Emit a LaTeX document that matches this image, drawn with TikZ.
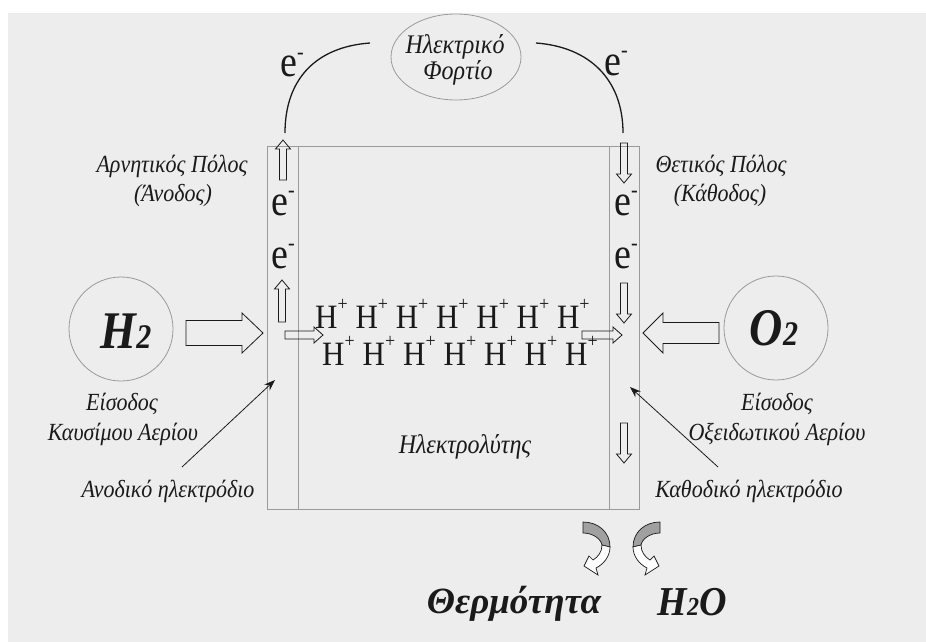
\documentclass[tikz,border=0pt]{standalone}
\usepackage{fontspec}
\setmainfont{Liberation Serif}
\usetikzlibrary{shapes.geometric,arrows.meta}
\definecolor{paper}{HTML}{EDEDED}
\definecolor{edge}{HTML}{9A9A9A}
\definecolor{ink}{HTML}{1A1A1A}
\definecolor{shade}{HTML}{A0A0A0}
% slightly tall lettering
\newcommand\tallt[1]{\scalebox{1}[1.12]{#1}}
% electron and proton symbols with a raised small sign
\newcommand\eminus{\scalebox{1}[1.15]{e\raisebox{15pt}{\fontsize{20}{20}\selectfont -}}}
\newcommand\hplus{\scalebox{1}[1.1]{H\raisebox{16pt}{\fontsize{18}{18}\selectfont +}}}
\tikzset{
  txt/.style={inner sep=0pt, anchor=base, text=ink},
  lbl/.style={txt, font=\itshape\fontsize{22}{22}\selectfont},
  bigsym/.style={txt, font=\bfseries\itshape\fontsize{46}{46}\selectfont},
  charge/.style={txt, anchor=base west, font=\fontsize{38}{38}\selectfont},
  proton/.style={txt, anchor=base west, font=\fontsize{31}{31}\selectfont},
  frame/.style={draw=edge, line width=0.8pt},
  wire/.style={draw=ink, line width=1.3pt},
  pointer/.style={draw=ink, line width=0.8pt, -{Stealth[length=11pt,width=8pt]}},
  hollow/.style={draw=ink, line width=0.8pt},
  pics/blockarrow/.style n args={4}{code={
    \draw[pic actions] (0,-#2) -- ({#1-#4},-#2) -- ({#1-#4},-#3) -- (#1,0)
      -- ({#1-#4},#3) -- ({#1-#4},#2) -- (0,#2) -- cycle;
  }},
  pics/curlarrow/.style={code={
    \draw[draw=ink, line width=0.7pt, fill=shade]
      (0,0) .. controls (15,0) and (27,10) .. (27,25) -- (19,23)
      .. controls (18,17) and (10,11) .. (0,11) -- cycle;
    \draw[draw=ink, line width=0.7pt, fill=white]
      (19,23) .. controls (19,30) and (15,35) .. (10,38) -- (6,34) -- (1,44)
      -- (15,53) -- (13,46) .. controls (21,42) and (27,34) .. (27,25) -- cycle;
  }},
}
\begin{document}
\begin{tikzpicture}[x=1pt,y=-1pt]
\useasboundingbox (0,0) rectangle (926,642);
\fill[white] (0,0) rectangle (926,642);
\fill[paper] (8,13) rectangle (926,642);

% fuel cell body with the two electrode strips
\draw[frame] (267,146) rectangle (639,509);
\draw[frame] (298,146) -- (298,509);
\draw[frame] (609,146) -- (609,509);

% external load
\node[frame, ellipse, minimum width=130pt, minimum height=86pt, inner sep=0pt] (load) at (456,57) {};
\node[lbl, font=\itshape\fontsize{24}{24}\selectfont] (loadA) at (455,53) {\tallt{Ηλεκτρικό}};
\node[lbl, font=\itshape\fontsize{24}{24}\selectfont] (loadB) at (458,80) {\tallt{Φορτίο}};

% external circuit
\coordinate (wireLa) at (285,133);
\coordinate (wireLb) at (370,43);
\coordinate (wireRa) at (536,43);
\coordinate (wireRb) at (623,133);
\draw[wire] (wireLa) .. controls (285,80) and (315,47) .. (wireLb);
\draw[wire] (wireRa) .. controls (590,47) and (623,80) .. (wireRb);
\node[charge] (eTopL) at (280,77) {\eminus};
\node[charge] (eTopR) at (604,75) {\eminus};

% electrons in the electrodes
\node[charge] (eAn1) at (271,215) {\eminus};
\node[charge] (eAn2) at (271,268) {\eminus};
\node[charge] (eCa1) at (614,215) {\eminus};
\node[charge] (eCa2) at (614,268) {\eminus};
\pic[hollow, rotate=90] at (283,180) {blockarrow={40}{3.5}{7.5}{9}};
\pic[hollow, rotate=90] at (282,322) {blockarrow={42}{3.5}{7.5}{9}};
\pic[hollow, rotate=-90] at (624,143) {blockarrow={40}{3.5}{7.5}{9}};
\pic[hollow, rotate=-90] at (624,283) {blockarrow={40}{3.5}{7.5}{9}};
\pic[hollow, rotate=-90] at (624,423) {blockarrow={40}{3.5}{7.5}{9}};

% protons crossing the electrolyte
\foreach \i in {0,...,6} {
  \node[proton] (hpA\i) at ({315+40.3*\i},328) {\hplus};
  \node[proton] (hpB\i) at ({322+40.5*\i},365) {\hplus};
}
\pic[hollow] at (285,335) {blockarrow={38}{4}{8}{9}};
\pic[hollow] at (582,335) {blockarrow={40}{4}{8}{9}};

% gas inlets
\node[frame, circle, minimum size=104pt, inner sep=0pt] (h2c) at (121,329) {};
\node[bigsym] (h2) at (126,348) {\scalebox{1}[1.15]{H{\fontsize{30}{30}\selectfont 2}}};
\node[frame, circle, minimum size=104pt, inner sep=0pt] (o2c) at (776,328) {};
\node[bigsym] (o2) at (774,345) {\scalebox{1}[1.15]{O{\fontsize{30}{30}\selectfont 2}}};
\pic[hollow] at (186,333) {blockarrow={77}{12.5}{20}{21}};
\pic[hollow, rotate=180] at (719,333) {blockarrow={76}{10.5}{20}{20}};

% labels
\node[lbl] (negA) at (172,172) {\tallt{Αρνητικός Πόλος}};
\node[lbl] (negB) at (173,201) {\tallt{(Άνοδος)}};
\node[lbl] (posA) at (721,172) {\tallt{Θετικός Πόλος}};
\node[lbl] (posB) at (720,201) {\tallt{(Κάθοδος)}};
\node[lbl] (fuelA) at (122,410) {\tallt{Είσοδος}};
\node[lbl] (fuelB) at (123,440) {\tallt{Καυσίμου Αερίου}};
\node[lbl] (oxA) at (777,410) {\tallt{Είσοδος}};
\node[lbl] (oxB) at (777,440) {\tallt{Οξειδωτικού Αερίου}};
\node[lbl] (anode) at (168,497) {\tallt{Ανοδικό ηλεκτρόδιο}};
\node[lbl] (cathode) at (749,497) {\tallt{Καθοδικό ηλεκτρόδιο}};
\node[lbl, font=\itshape\fontsize{24}{24}\selectfont] (electrolyte) at (465,453) {\tallt{Ηλεκτρολύτης}};

\coordinate (anTip) at (275,380);
\coordinate (caTip) at (630,387);
\draw[pointer] (182,467) -- (anTip);
\draw[pointer] (718,467) -- (caTip);

% products
\pic at (583,522) {curlarrow};
\pic[xscale=-1] at (660,522) {curlarrow};
\node[txt, font=\bfseries\itshape\fontsize{37}{37}\selectfont] (heat) at (514,613) {Θερμότητα};
\node[txt, font=\bfseries\itshape\fontsize{38}{38}\selectfont] (water) at (692,615) {\scalebox{1}[1.08]{H{\fontsize{24}{24}\selectfont 2}O}};
\end{tikzpicture}
\end{document}
